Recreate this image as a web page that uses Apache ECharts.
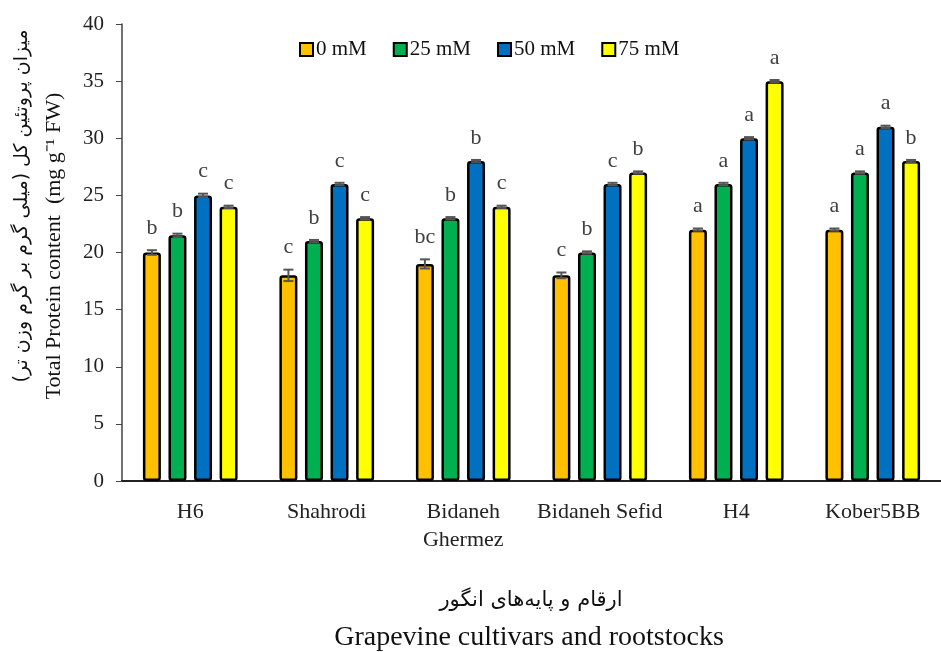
<!DOCTYPE html>
<html><head><meta charset="utf-8">
<script src="https://cdn.jsdelivr.net/npm/echarts@6/dist/echarts.min.js"></script>
<style>html,body{margin:0;padding:0;background:#fff}#c{width:941px;height:652px}</style>
</head><body><div id="c"></div>
<script>
const categories = ['H6', 'Shahrodi', 'Bidaneh\nGhermez', 'Bidaneh Sefid', 'H4', 'Kober5BB'];
const seriesNames = ['0 mM', '25 mM', '50 mM', '75 mM'];
const v0 = [20, 18, 19, 18, 22, 22];
const v25 = [21.5, 21, 23, 20, 26, 27];
const v50 = [25, 26, 28, 26, 30, 31];
const v75 = [24, 23, 24, 27, 35, 28];
const e0 = [0.2, 0.5, 0.4, 0.25, 0.1, 0.1];
const e25 = [0.15, 0.1, 0.1, 0.1, 0.1, 0.1];
const e50 = [0.15, 0.1, 0.1, 0.1, 0.1, 0.1];
const e75 = [0.1, 0.1, 0.1, 0.1, 0.1, 0.1];
const l0 = ['b', 'c', 'bc', 'c', 'a', 'a'];
const l25 = ['b', 'b', 'b', 'b', 'a', 'a'];
const l50 = ['c', 'c', 'b', 'c', 'a', 'a'];
const l75 = ['c', 'c', 'c', 'b', 'a', 'b'];
const yTicks = [0, 5, 10, 15, 20, 25, 30, 35, 40];

const values = [v0, v25, v50, v75];
const errs = [e0, e25, e50, e75];
const letters = [l0, l25, l50, l75];
const colors = ['#FFC000', '#00B050', '#0070C0', '#FFFF00'];
const serif = '"Liberation Serif", "Times New Roman", serif';
const BW = 18, GAP = 0.42;

const chart = echarts.init(document.getElementById('c'));
const series = [];
values.forEach((vals, i) => {
  series.push({
    name: seriesNames[i], type: 'bar', data: vals, barWidth: BW, barGap: (GAP * 100) + '%',
    itemStyle: { color: colors[i], borderColor: '#000', borderWidth: 2.5, borderRadius: 2 },
    z: 2
  });
});
values.forEach((vals, i) => {
  series.push({
    type: 'custom', name: 'err' + i, z: 5,
    data: vals.map((v, k) => [k, v, errs[i][k]]),
    renderItem: function (params, api) {
      const k = api.value(0), v = api.value(1), e = api.value(2);
      const off = (i - 1.5) * BW * (1 + GAP);
      const top = api.coord([k, v + e]);
      const bot = api.coord([k, v - e]);
      const x = top[0] + off;
      const capW = 5;
      const lt = letters[i][k];
      return {
        type: 'group', children: [
          { type: 'line', shape: { x1: x, y1: top[1], x2: x, y2: bot[1] }, style: { stroke: '#555', lineWidth: 2 } },
          { type: 'line', shape: { x1: x - capW, y1: top[1], x2: x + capW, y2: top[1] }, style: { stroke: '#555', lineWidth: 2 } },
          { type: 'line', shape: { x1: x - capW, y1: bot[1], x2: x + capW, y2: bot[1] }, style: { stroke: '#555', lineWidth: 2 } },
          { type: 'text', style: { text: lt, x: x, y: top[1] - 11, textAlign: 'center', textVerticalAlign: 'bottom', font: '22px ' + serif, fill: '#404040' } }
        ]
      };
    },
    tooltip: { show: false }
  });
});

chart.setOption({
  animation: false,
  backgroundColor: '#fff',
  grid: { left: 122, top: 24, width: 840, bottom: 171, containLabel: false },
  legend: {
    data: seriesNames,
    left: 294, top: 34, itemWidth: 13, itemHeight: 13, itemGap: 26,
    icon: 'rect',
    itemStyle: { borderColor: '#000', borderWidth: 2 },
    textStyle: { fontFamily: serif, fontSize: 21, color: '#111', padding: [0, 0, 0, -2] }
  },
  xAxis: {
    type: 'category', data: categories,
    axisLine: { lineStyle: { color: '#222', width: 2 } },
    axisTick: { show: false },
    axisLabel: { fontFamily: serif, fontSize: 22, color: '#222', margin: 17, lineHeight: 28, interval: 0 }
  },
  yAxis: {
    type: 'value', min: 0, max: 40, interval: 5,
    splitLine: { show: false },
    axisLine: { show: true, lineStyle: { color: '#444', width: 1.5 } },
    axisTick: { show: true, length: 6, lineStyle: { color: '#444' } },
    axisLabel: { fontFamily: serif, fontSize: 21, color: '#222', margin: 18, formatter: v => yTicks.includes(v) ? String(v) : '' }
  },
  graphic: [
    { type: 'text', x: 22, y: 206, rotation: Math.PI / 2, style: { text: 'میزان پروتئین کل (میلی گرم بر گرم وزن تر)', font: '19px "DejaVu Sans", sans-serif', fill: '#111', textAlign: 'center', textVerticalAlign: 'middle' } },
    { type: 'text', x: 54, y: 246, rotation: Math.PI / 2, style: { text: 'Total Protein content  (mg g⁻¹ FW)', font: '22px ' + serif, fill: '#111', textAlign: 'center', textVerticalAlign: 'middle' } },
    { type: 'text', x: 531, y: 601, style: { text: 'ارقام و پایه‌های انگور', font: '21px "DejaVu Sans", sans-serif', fill: '#111', textAlign: 'center', textVerticalAlign: 'middle' } },
    { type: 'text', x: 529, y: 638, style: { text: 'Grapevine cultivars and rootstocks', font: '28px ' + serif, fill: '#111', textAlign: 'center', textVerticalAlign: 'middle' } }
  ],
  series: series
});
</script></body></html>
